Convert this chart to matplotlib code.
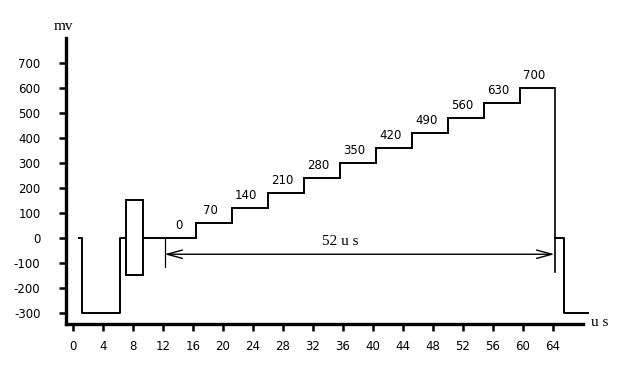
import matplotlib
matplotlib.use("Agg")
import matplotlib.pyplot as plt
from matplotlib.patches import Rectangle

# --- data ------------------------------------------------------------------
# leading negative pulse (x in us, y in mv)
pulse_x = [0.8, 1.2, 1.2, 6.3, 6.3, 7.0]
pulse_y = [0, 0, -300, -300, 0, 0]

# rectangular burst
box_x = (7.0, 9.3)
box_y = (-150, 150)

# staircase edges and levels
stair_edges = [9.3, 16.4, 21.2, 26.0, 30.8, 35.6, 40.4, 45.2, 50.0, 54.8, 59.6, 64.2]
stair_levels = [0, 60, 120, 180, 240, 300, 360, 420, 480, 540, 600]
stair_labels = ['0', '70', '140', '210', '280', '350', '420', '490', '560', '630', '700']

# trailing pulse after the staircase
tail_x = [64.2, 65.4, 65.4, 68.7]
tail_y = [0, 0, -300, -300]

# span marker
span_start, span_end = 12.2, 64.2
span_y = -66
span_text = '52 u s'
mark_low_start, mark_low_end = -117, -136

xticks = list(range(0, 65, 4))
yticks = list(range(-300, 701, 100))

# --- figure ----------------------------------------------------------------
W, H = 617, 377
fig = plt.figure(figsize=(W / 100, H / 100), dpi=100)
ax = fig.add_axes([65.5 / W, 1 - 323.5 / H, (583 - 65.5) / W, (323.5 - 37.7) / H])
ax.set_xlim(-1, 68)
ax.set_ylim(-343, 800)

num_font = dict(family='DejaVu Sans', fontsize=8.5)
serif_font = dict(family='Liberation Serif', fontsize=11)

lw = 1.4
ax.plot(pulse_x, pulse_y, color='k', lw=lw)
ax.add_patch(Rectangle((box_x[0], box_y[0]), box_x[1] - box_x[0], box_y[1] - box_y[0],
                       fill=False, ec='k', lw=lw))
ax.stairs(stair_levels, stair_edges, baseline=None, color='k', lw=lw)
ax.plot([stair_edges[-1], stair_edges[-1]], [stair_levels[-1], mark_low_end], color='k', lw=1.2)
ax.plot(tail_x, tail_y, color='k', lw=lw, clip_on=False)

# marker at start of span
ax.plot([span_start, span_start], [0, mark_low_start], color='k', lw=0.9)

# step labels
for left, lev, lab in zip(stair_edges[:-1], stair_levels, stair_labels):
    ax.text(max(left, span_start) + 1.9, lev + 50, lab, ha='center', va='center', **num_font)

# span arrow
ax.annotate('', xy=(span_start, span_y), xytext=(span_end, span_y),
            arrowprops=dict(arrowstyle='<->,head_length=1.1,head_width=0.3',
                            lw=1.0, color='k', shrinkA=0, shrinkB=0))
ax.text((span_start + span_end) / 2 - 2.6, span_y + 50, span_text, ha='center', va='center',
        **serif_font)

# axes styling
for s in ('top', 'right'):
    ax.spines[s].set_visible(False)
for s in ('left', 'bottom'):
    ax.spines[s].set_linewidth(2.4)

ax.set_xticks(xticks)
ax.set_xticklabels([str(v) for v in xticks], **num_font)
ax.set_yticks(yticks)
ax.set_yticklabels([str(v) for v in yticks], **num_font)
ax.tick_params(axis='both', direction='out', width=1.8, length=5)
ax.tick_params(axis='x', pad=7)
ax.tick_params(axis='y', pad=13)

fig.text(63 / W, 1 - 26 / H, 'mv', ha='center', va='center', **serif_font)
fig.text(600 / W, 1 - 322 / H, 'u s', ha='center', va='center', **serif_font)

fig.savefig('out.png', dpi=100)
